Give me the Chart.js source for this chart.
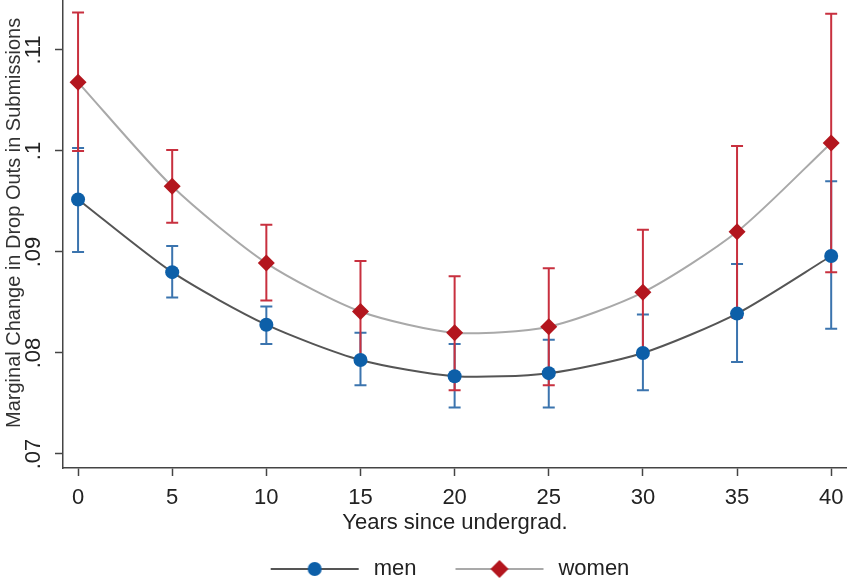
<!DOCTYPE html>
<html>
<head>
<meta charset="utf-8">
<script src="https://cdn.jsdelivr.net/npm/chart.js@4/dist/chart.umd.min.js"></script>
<style>
  html, body { margin: 0; padding: 0; background: #fff; }
  #wrap { width: 847px; height: 584px; }
</style>
</head>
<body>
<div id="wrap"><canvas id="c"></canvas></div>
<script>
// values
const years = [0, 5, 10, 15, 20, 25, 30, 35, 40];
const menEst = [0.0952, 0.0880, 0.0828, 0.0793, 0.0777, 0.0780, 0.0800, 0.0839, 0.0896];
const menLo  = [0.0900, 0.0855, 0.0809, 0.0768, 0.0746, 0.0746, 0.0763, 0.0791, 0.0824];
const menHi  = [0.1003, 0.0906, 0.0846, 0.0820, 0.0809, 0.0813, 0.0838, 0.0888, 0.0970];
const womenEst = [0.1068, 0.0965, 0.0889, 0.0841, 0.0820, 0.0826, 0.0860, 0.0920, 0.1008];
const womenLo  = [0.1000, 0.0929, 0.0852, 0.0791, 0.0763, 0.0768, 0.0798, 0.0835, 0.0880];
const womenHi  = [0.1137, 0.1001, 0.0927, 0.0891, 0.0876, 0.0884, 0.0922, 0.1005, 0.1136];
const xTicks = [0, 5, 10, 15, 20, 25, 30, 35, 40];
const yTicks = [0.07, 0.08, 0.09, 0.10, 0.11];

const family = '"Liberation Sans", Arial, sans-serif';
const menDot = '#0d5fa8', menBar = '#3b74ae', menLine = '#555555';
const womenDot = '#b3161e', womenBar = '#c8303f', womenLine = '#a9a9a9';
const axisColor = '#444444';

// legend icon: short line with the marker in the middle
const iconW = 96;
function legendIcon(lineColor, dotColor, shape) {
	const c = document.createElement('canvas');
	c.width = iconW;
	c.height = 24;
	const g = c.getContext('2d');
	g.strokeStyle = lineColor;
	g.lineWidth = 2;
	g.beginPath();
	g.moveTo(4, 12);
	g.lineTo(iconW - 4, 12);
	g.stroke();
	g.fillStyle = dotColor;
	const cx = iconW / 2;
	g.beginPath();
	if (shape === 'circle') {
		g.arc(cx, 12, 7, 0, Math.PI * 2);
	} else {
		g.moveTo(cx, 3); g.lineTo(cx + 9, 12); g.lineTo(cx, 21); g.lineTo(cx - 9, 12);
		g.closePath();
	}
	g.fill();
	return c;
}
const icons = [legendIcon(menLine, menDot, 'circle'), legendIcon(womenLine, womenDot, 'diamond')];

const errorBars = {
	id: 'errorBars',
	beforeDatasetsDraw: chart => {
		const {ctx, scales: {x, y}} = chart;
		const sets = [[menLo, menHi, menBar], [womenLo, womenHi, womenBar]];
		ctx.save();
		ctx.lineWidth = 2;
		for (const [lo, hi, col] of sets) {
			ctx.strokeStyle = col;
			years.forEach((yr, i) => {
				const px = x.getPixelForValue(yr);
				const top = y.getPixelForValue(hi[i]);
				const bot = y.getPixelForValue(lo[i]);
				ctx.beginPath();
				ctx.moveTo(px, top); ctx.lineTo(px, bot);
				ctx.moveTo(px - 6, top); ctx.lineTo(px + 6, top);
				ctx.moveTo(px - 6, bot); ctx.lineTo(px + 6, bot);
				ctx.stroke();
			});
		}
		ctx.restore();
	}
};

// legend sits a little left of the plot centre in the original
const legendNudge = {
	id: 'legendNudge',
	afterLayout: chart => { chart.legend.left -= 14; },
};

const fmt = v => String(+v.toFixed(2)).replace(/^0/, '');

new Chart(document.getElementById('c'), {
	type: 'line',
	data: {
		datasets: [
			{
				label: 'men',
				data: years.map((x, i) => ({x, y: menEst[i]})),
				borderColor: menLine,
				borderWidth: 2,
				pointStyle: 'circle',
				pointRadius: 7,
				pointBackgroundColor: menDot,
				pointBorderWidth: 0,
				tension: 0.25,
			},
			{
				label: 'women',
				data: years.map((x, i) => ({x, y: womenEst[i]})),
				borderColor: womenLine,
				borderWidth: 2,
				pointStyle: 'rectRot',
				pointRadius: 8.5,
				pointBackgroundColor: womenDot,
				pointBorderWidth: 0,
				tension: 0.25,
			},
		],
	},
	plugins: [errorBars, legendNudge],
	options: {
		responsive: true,
		maintainAspectRatio: false,
		animation: false,
		clip: false,
		layout: {autoPadding: false, padding: {top: 0, left: 0, right: 0, bottom: -6}},
		plugins: {
			tooltip: {enabled: false},
			legend: {
				position: 'bottom',
				fullSize: false,
				labels: {
					usePointStyle: true,
					pointStyleWidth: iconW,
					padding: 35,
					color: '#222',
					font: {size: 22, family},
					generateLabels: chart => chart.data.datasets.map((ds, i) => ({
						text: ds.label,
						pointStyle: icons[i],
						fillStyle: 'transparent',
						strokeStyle: 'transparent',
						lineWidth: 0,
						hidden: false,
						datasetIndex: i,
						fontColor: '#222',
					})),
				},
			},
		},
		scales: {
			x: {
				type: 'linear',
				min: -0.8,
				max: 40.84,
				afterBuildTicks: s => { s.ticks = xTicks.map(v => ({value: v})); },
				afterFit: s => { s.height = 55; s.paddingLeft = 0; s.paddingRight = 0; },
				border: {color: axisColor, width: 1.5},
				grid: {drawOnChartArea: false, drawTicks: true, tickLength: 8, color: axisColor, tickWidth: 1.5},
				ticks: {autoSkip: false, maxRotation: 0, padding: 9, color: '#222', font: {size: 22, family}},
				title: {
					display: true,
					text: 'Years since undergrad.',
					color: '#222',
					font: {size: 22, family, lineHeight: 1.2},
					padding: {top: 0, bottom: -13},
				},
			},
			y: {
				min: 0.06861,
				max: 0.11495,
				afterBuildTicks: s => { s.ticks = yTicks.map(v => ({value: v})); },
				afterFit: s => { s.width = 63; s.paddingTop = 0; s.paddingBottom = 0; },
				border: {color: axisColor, width: 1.5},
				grid: {drawOnChartArea: false, drawTicks: true, tickLength: 8, color: axisColor, tickWidth: 1.5},
				ticks: {
					autoSkip: false,
					minRotation: 90,
					maxRotation: 90,
					crossAlign: 'center',
					padding: 6,
					color: '#222',
					font: {size: 22, family},
					callback: v => fmt(v),
				},
				title: {
					display: true,
					text: '    Marginal Change in Drop Outs in Submissions',
					color: '#333',
					font: {size: 20, family, lineHeight: 1.2},
					padding: {top: 2, bottom: 0},
				},
			},
		},
	},
});
</script>
</body>
</html>
